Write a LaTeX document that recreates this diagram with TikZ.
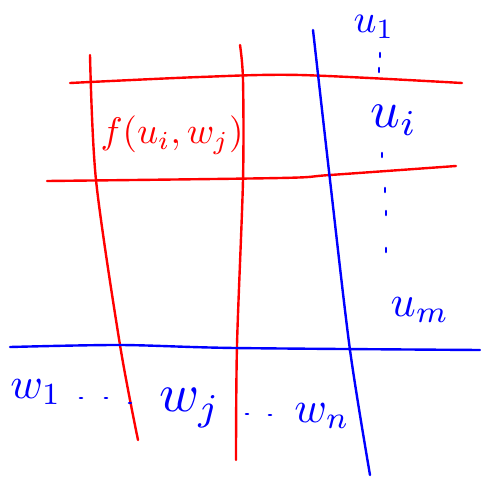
\documentclass[tikz,border=0pt]{standalone}
\usepackage{graphicx}
\begin{document}
\begin{tikzpicture}[x=1pt,y=-1pt,
  redline/.style={red, line width=2.4pt, line cap=round, line join=round},
  blueline/.style={blue, line width=2.4pt, line cap=round, line join=round},
  dotmark/.style={blue, line width=2.6pt, line cap=round},
  redtxt/.style={red, inner sep=0pt},
  bluetxt/.style={blue, inner sep=0pt}]
\useasboundingbox (0,0) rectangle (480,482);
% red grid lines
\draw[redline] plot[smooth] coordinates {(70,83) (200,77) (300,75) (462,83)};
\draw[redline] plot[smooth] coordinates {(47,181) (280,178) (330,175) (456,166)};
\draw[redline] plot[smooth] coordinates {(90,55) (96,180) (120,345) (138,440)};
\draw[redline] plot[smooth] coordinates {(240,45) (243,80) (243,180) (237,345) (236,460)};
% blue grid lines
\draw[blueline] plot[smooth] coordinates {(10,347) (120,345) (235,348) (480,350)};
\draw[blueline] plot[smooth] coordinates {(313,30) (330,180) (350,350) (370,475)};
% cell label
\node[redtxt] (f) at (172,135) {\scalebox{3.7}{$f(u_i, w_j)$}};
% right labels
\node[bluetxt] (r1) at (374,27) {\scalebox{4.0}{$u_1$}};
\node[bluetxt] (ri) at (394,120) {\scalebox{5.2}{$u_i$}};
\node[bluetxt] (rm) at (420,310) {\scalebox{4.4}{$u_m$}};
% right vertical dots
\foreach \x/\y in {380/55, 379/70, 382/155, 385/190, 386/213, 386/250}
  \draw[dotmark] (\x,\y-2) -- (\x,\y+2);
% bottom labels
\node[bluetxt] (b1) at (36,392) {\scalebox{4.4}{$w_1$}};
\node[bluetxt] (bj) at (190,408) {\scalebox{5.4}{$w_j$}};
\node[bluetxt] (bn) at (322,416) {\scalebox{4.4}{$w_n$}};
% bottom dots
\foreach \x/\y in {81/398, 106/398, 130/403, 247/414, 270/415}
  \draw[dotmark] (\x-1,\y) -- (\x+1,\y);
\end{tikzpicture}
\end{document}
